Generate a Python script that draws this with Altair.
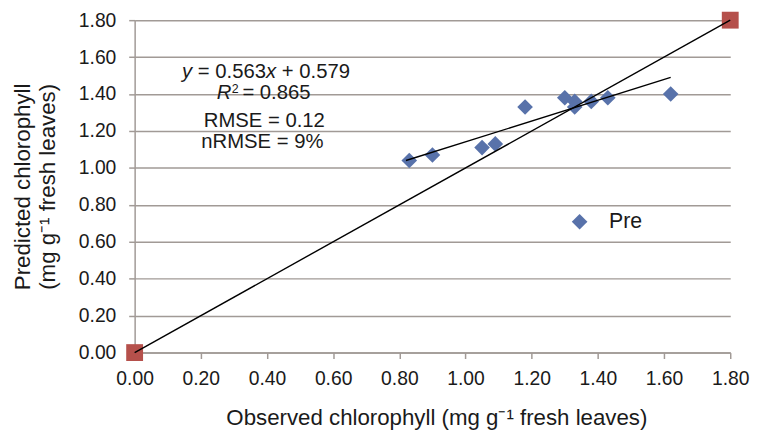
import altair as alt
import pandas as pd

# ---- data ----
obs = [0.83, 0.90, 1.05, 1.09, 1.18, 1.30, 1.33, 1.33, 1.38, 1.43, 1.62]
pre = [1.04, 1.07, 1.11, 1.13, 1.33, 1.38, 1.36, 1.33, 1.36, 1.38, 1.40]
ref_x = [0.0, 1.8]
ref_y = [0.0, 1.8]
trend_x = [0.82, 1.62]
trend_y = [1.04, 1.49]
ticks = [0.0, 0.2, 0.4, 0.6, 0.8, 1.0, 1.2, 1.4, 1.6, 1.8]
series = "Pre"

FONT = "Liberation Sans"
TXT = "#1a1a1a"
GRID = "#a19a96"
BLUE = "#5872aa"
RED = "#b5504b"
FS = 20.5

xs = alt.Scale(domain=[0, 1.8], nice=False, zero=False)
ys = alt.Scale(domain=[0, 1.8], nice=False, zero=False)

xaxis = alt.Axis(values=ticks, format=".2f", grid=False, title="Observed chlorophyll (mg g\u207b\u00b9 fresh leaves)",
                 tickSize=6, labelPadding=11, titleX=305, titleY=55, labelFlush=False)
yaxis = alt.Axis(values=ticks, format=".2f", grid=True, title=["Predicted chlorophyll", "(mg g\u207b\u00b9 fresh leaves)"],
                 tickSize=6, labelPadding=13, titlePadding=19, titleLineHeight=25, labelFlush=False)


def X():
    return alt.X("x:Q", scale=xs, axis=xaxis)


def Y():
    return alt.Y("y:Q", scale=ys, axis=yaxis)


pts = pd.DataFrame({"x": obs, "y": pre, "s": [series] * len(obs)})
ref = pd.DataFrame({"x": ref_x, "y": ref_y})
trend = pd.DataFrame({"x": trend_x, "y": trend_y})

squares = alt.Chart(ref).mark_point(shape="square", filled=True, size=290, color=RED, opacity=1).encode(x=X(), y=Y())

points = alt.Chart(pts).mark_point(shape="diamond", filled=True, size=250, opacity=1).encode(
    x=X(), y=Y(),
    color=alt.Color("s:N", scale=alt.Scale(domain=[series], range=[BLUE]),
                    legend=alt.Legend(title=None, orient="none", legendX=439, legendY=193, symbolType="diamond",
                                      symbolSize=250, symbolStrokeWidth=0, labelFontSize=21.5, labelFont=FONT,
                                      labelColor=TXT, labelOffset=19, padding=0))
)

ref_line = alt.Chart(ref).mark_line(color="black", strokeWidth=1.4).encode(x=X(), y=Y())
trend_line = alt.Chart(trend).mark_line(color="black", strokeWidth=1.4).encode(x=X(), y=Y())


def piece(x, y, text, dx, size=FS, italic=False, dy=0, align="left"):
    df = pd.DataFrame({"x": [x], "y": [y], "t": [text]})
    kw = dict(align=align, baseline="middle", dx=dx, dy=dy, fontSize=size, font=FONT, color=TXT)
    if italic:
        kw["fontStyle"] = "italic"
    return alt.Chart(df).mark_text(**kw).encode(x=X(), y=Y(), text="t:N")


# line 1: y = 0.563x + 0.579 (centred)
cx1, cy1 = 0.397, 1.52
tot1 = 8.284 * FS
l1 = [
    piece(cx1, cy1, "y", -tot1 / 2, italic=True),
    piece(cx1, cy1, "= 0.563", 0.778 * FS - tot1 / 2),
    piece(cx1, cy1, "x", 4.142 * FS - tot1 / 2, italic=True),
    piece(cx1, cy1, "+ 0.579", 4.92 * FS - tot1 / 2),
]
# line 2: R^2 = 0.865
cx2, cy2 = 0.39, 1.403
tot2 = 4.62 * FS
l2 = [
    piece(cx2, cy2, "R", -tot2 / 2, italic=True),
    piece(cx2, cy2, "2", 0.74 * FS - tot2 / 2, size=12.5, dy=-4),
    piece(cx2, cy2, "= 0.865", 1.26 * FS - tot2 / 2),
]
l3 = [piece(0.392, 1.255, "RMSE = 0.12", 0, align="center")]
l4 = [piece(0.386, 1.142, "nRMSE = 9%", 0, align="center")]

chart = alt.layer(squares, points, ref_line, trend_line, *l1, *l2, *l3, *l4).properties(
    width=602, height=336,
    autosize=alt.AutoSizeParams(type="none"),
    padding={"left": 128, "top": 10, "right": 22, "bottom": 81},
).configure_view(stroke=None).configure_axis(
    domainColor=GRID, domainWidth=1.5, tickColor=GRID, tickWidth=1.5, gridColor=GRID, gridWidth=1.5,
    labelFont=FONT, labelFontSize=19.5, labelColor=TXT, titleFont=FONT, titleFontSize=22.5, titleColor=TXT,
    titleFontWeight="normal",
)

chart.save("out.html", embed_options={"renderer": "svg", "actions": False})
